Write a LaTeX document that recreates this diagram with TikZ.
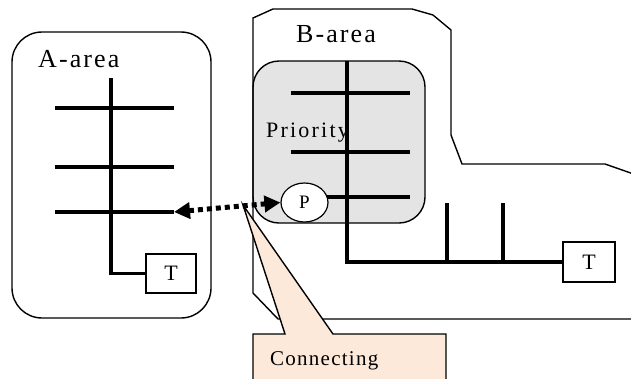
\documentclass[tikz,border=0pt]{standalone}
\usepackage{fontspec}
\setmainfont{Liberation Serif}
\usetikzlibrary{arrows.meta,shapes.geometric}

\definecolor{prioritygray}{RGB}{228,228,228}
\definecolor{calloutpeach}{RGB}{252,233,218}

\begin{document}
\begin{tikzpicture}[x=1pt,y=-1pt,
  outline/.style={draw=black,line width=1.4pt},
  track/.style={draw=black,line width=3.6pt},
  arealabel/.style={inner sep=0pt,anchor=base west,
    font=\addfontfeature{LetterSpace=8}\fontsize{26}{26}\selectfont},
  prilabel/.style={inner sep=0pt,anchor=base west,
    font=\addfontfeature{LetterSpace=10}\fontsize{22}{22}\selectfont},
  connlabel/.style={inner sep=0pt,anchor=base west,
    font=\addfontfeature{LetterSpace=6}\fontsize{21}{21}\selectfont},
  tbox/.style={draw=black,line width=1.2pt,fill=white,inner sep=0pt,
    font=\fontsize{22}{22}\selectfont},
  pnode/.style={ellipse,draw=black,line width=1.2pt,fill=white,inner sep=0pt,
    minimum width=47pt,minimum height=39pt,font=\fontsize{19}{19}\selectfont},
  link/.style={line width=5pt,dash pattern=on 5pt off 4pt,
    {Triangle[length=16pt,width=16pt]}-{Triangle[length=16pt,width=16pt]}}
]
\useasboundingbox (0,0) rectangle (631,378);
\clip (0,0) rectangle (631,378);

% ---- A-area ----
\node[outline,rounded corners=30pt,minimum width=199pt,minimum height=286pt,
  inner sep=0pt] (areaA) at (111.5,175) {};
\node[arealabel] (labelA) at (38,67) {A-area};
\node[tbox,minimum width=50pt,minimum height=39pt] (tA) at (171,273.5) {T};
\coordinate (topA) at (111,78);
\draw[track] (55,108) -- (174,108);
\draw[track] (55,167) -- (174,167);
\draw[track] (55,212) -- (174,212);
\coordinate (endA) at (174,212);
\draw[track] (topA) |- (tA.west);

% ---- Priority region ----
\node[outline,fill=prioritygray,rounded corners=26pt,minimum width=172pt,
  minimum height=162pt,inner sep=0pt] (prio) at (339,142) {};

% ---- B-area outline ----
\draw[outline] (253,18) -- (273,9) -- (412,9) -- (433,15) -- (451,30)
  -- (451,135) -- (462,164) -- (605,164) -- (665,185) -- (665,319)
  -- (278,319) -- (253,293) -- cycle;
\node[arealabel] (labelB) at (296,42) {B-area};
\node[prilabel] (labelP) at (266,137) {Priority};

% ---- B-area tracks ----
\node[tbox,minimum width=52pt,minimum height=40pt] (tB) at (589,262) {T};
\coordinate (topB) at (347,61);
\draw[track] (291,93) -- (410,93);
\draw[track] (291,152) -- (410,152);
\draw[track] (310,197) -- (410,197);
\draw[track] (topB) |- (tB.west);
\draw[track] (447,203) -- (447,262);
\draw[track] (503,203) -- (503,262);
\node[pnode] (p) at (304.5,202.5) {P};

% ---- callout ----
\coordinate (tip) at (243,205);
\draw[outline,fill=calloutpeach] (253,395) -- (253,334) -- (285,334) -- (tip)
  -- (333,334) -- (446,334) -- (446,395);
\node[connlabel] (conn) at (270,365) {Connecting};

% ---- link between the areas ----
\draw[link] (endA) -- (p.west);
\end{tikzpicture}
\end{document}
